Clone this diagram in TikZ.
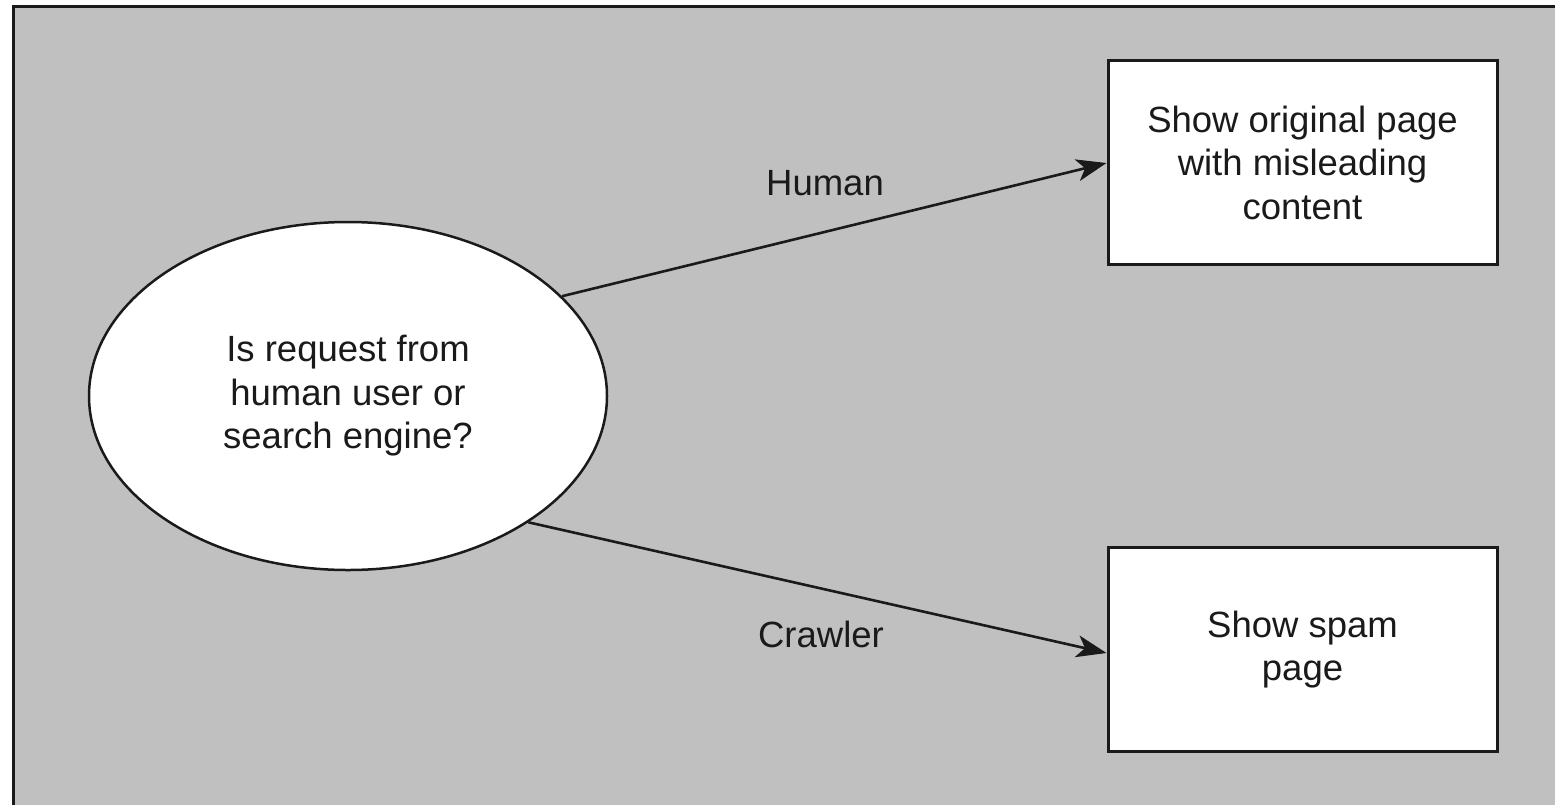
\documentclass[tikz,border=0pt]{standalone}
\usepackage{fontspec}
\setmainfont{Liberation Sans}
\usetikzlibrary{arrows.meta,shapes.geometric}
\definecolor{panel}{RGB}{192,192,192}
\definecolor{ink}{RGB}{26,26,26}
\tikzset{
  decision/.style={ellipse, draw=ink, line width=2.5pt, fill=white,
    minimum width=518pt, minimum height=348pt, inner sep=0pt,
    align=center, font=\fontsize{36.5}{43.5}\selectfont, text=ink},
  outcome/.style={rectangle, draw=ink, line width=3pt, fill=white,
    minimum width=389pt, minimum height=204pt, inner sep=0pt,
    align=center, font=\fontsize{36.5}{43.5}\selectfont, text=ink},
  branch/.style={draw=ink, line width=2.6pt,
    -{Stealth[length=30pt,width=22pt,inset=8pt]}},
  tag/.style={font=\fontsize{36.5}{43.5}\selectfont, text=ink, anchor=base}
}
\begin{document}
\begin{tikzpicture}[x=1pt,y=-1pt]
  \useasboundingbox (0,0) rectangle (1555,804);
  \fill[white] (0,0) rectangle (1555,804);
  \draw[ink, line width=3pt, fill=panel] (13,6) rectangle (1575,824);

  \node[decision] (ask) at (348,396) {Is request from\\human user or\\search engine?};
  \node[outcome] (orig) at (1302.5,162.5) {Show original page\\with misleading\\content};
  \node[outcome] (spam) at (1302.5,649.5) {Show spam\\page};

  \draw[branch] (ask.25.3) -- ([yshift=-0.5pt]orig.west);
  \draw[branch] (ask.-35.8) -- ([yshift=-3.5pt]spam.west);

  \node[tag] (human) at (825,195) {Human};
  \node[tag] (crawler) at (821,647) {Crawler};
\end{tikzpicture}
\end{document}
